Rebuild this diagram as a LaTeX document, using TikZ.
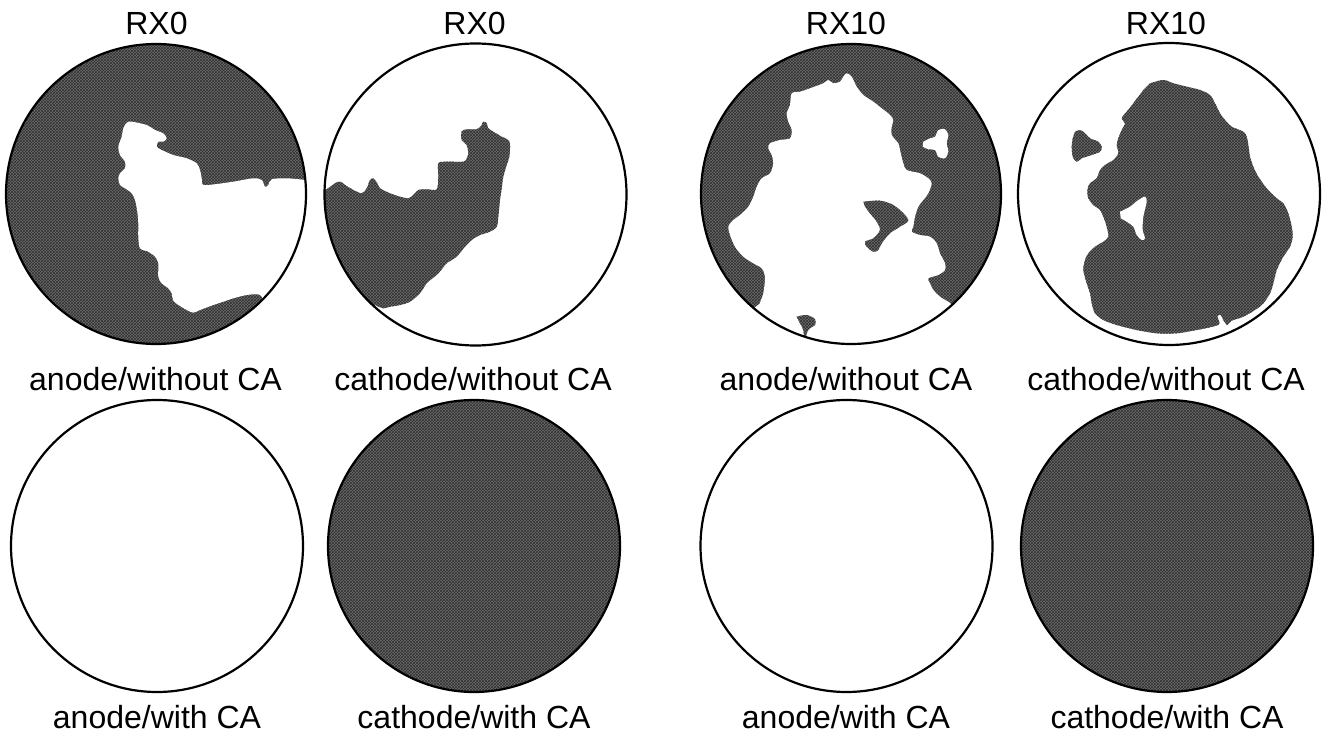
\documentclass[tikz,border=0pt]{standalone}
\usepackage{fontspec}
\setmainfont{Liberation Sans}
\usetikzlibrary{patterns}

\definecolor{hatchbase}{HTML}{6C6C6C}
\definecolor{hatchline}{HTML}{303030}

\newcommand\lblfont{\fontsize{32}{32}\selectfont}

\tikzset{
  hatch/.style={fill=hatchbase, postaction={pattern=crosshatch, pattern color=hatchline}},
  rim/.style={draw=black, line width=2.2pt},
  lbl/.style={font=\lblfont, inner sep=0pt, anchor=base},
  blob/.style={smooth, tension=0.5},
}

\begin{document}
\begin{tikzpicture}[x=1pt, y=-1pt]
\useasboundingbox (0,0) rectangle (1329,735);

% ---------------- column headings ----------------
\node[lbl] (h1) at (156.5,35) {RX0};
\node[lbl] (h2) at (474.6,35) {RX0};
\node[lbl] (h3) at (846,35)   {RX10};
\node[lbl] (h4) at (1166,35)  {RX10};

% ---------------- RX0, anode without CA ----------------
\begin{scope}
  \clip (156,194) circle[radius=150pt];
  \fill[hatch] (156,194) circle[radius=150pt];
  \fill[white] plot[blob] coordinates {
    (261.7,296.7) (258.3,294.3) (246.7,295) (233.3,298.3) (223.3,301.7)
    (213.3,305) (200,310) (193.3,312.7) (186.7,310) (180,306) (173.3,300.7)
    (171.7,293.3) (168.3,288.3) (161.7,283.3) (158.3,276.7) (158.3,263.3)
    (155,256.7) (148.3,251.7) (140,248.3) (138.3,236.7) (138.3,223.3)
    (137.3,211.7) (135,200) (131.7,193.3) (125,188.3) (120,185) (118.3,178.3)
    (120,173.3) (125,168.3) (125,161.7) (120,155) (118.3,146.7) (121.7,136.7)
    (123.3,128.3) (126.7,122.7) (131.7,121.7) (146.7,125) (155,130)
    (163.3,133.3) (166.7,138.3) (163.3,141.7) (158.3,141.7) (156.7,146.7)
    (161.7,150) (173.3,155) (186.7,158.3) (196.7,163.3) (200,170)
    (201.7,178.3) (203.3,185) (216.7,184) (233.3,181.7) (253.3,178.3)
    (261.7,180) (265,186.7) (268.3,185) (271.7,179.3) (286.7,178.3) (306,180)}
    -- (330,180) -- (330,330) -- (275,330) -- cycle;
\end{scope}
\draw[rim] (156,194) circle[radius=150pt];

% ---------------- RX0, cathode without CA ----------------
\begin{scope}
  \clip (475.5,194.5) circle[radius=151pt];
  \fill[hatch] plot[blob] coordinates {
    (326.7,189.3) (335,183.3) (340,181.7) (346.7,186) (353.3,190)
    (361.7,193.3) (366.7,188.3) (370,180) (373.3,178.3) (377.3,183.3)
    (380,188.3) (390,193.3) (400,196.7) (408.3,198.3) (413.3,195)
    (418.3,190) (426.7,189.3) (436.7,189.3) (438.3,176.7) (438.3,163.3)
    (446.7,161.7) (463.3,161.7) (466.7,158.3) (468.3,153.3) (466.7,145)
    (461.7,140) (461.7,131.7) (466.7,129.3) (476.7,129.3) (481.7,125)
    (483.3,121.7) (486.7,123.3) (488.3,128.3) (493.3,131.7) (501.7,136.7)
    (508.3,140) (510,145) (509.3,156.7) (506.7,165) (503.3,176.7)
    (501.7,188.3) (500,200) (498.3,216.7) (496.7,226.7) (490,231.7)
    (480,235) (471.7,240) (465,246.7) (456.7,256.7) (446.7,263.3)
    (438.3,273.3) (426.7,283.3) (420,293.3) (410,301.7) (400,305)
    (390,306.7) (383.3,308.3) (375,305)}
    -- (370,320) -- (310,260) -- (315,189.3) -- cycle;
\end{scope}
\draw[rim] (475.5,194.5) circle[radius=151pt];

% ---------------- RX10, anode without CA ----------------
\begin{scope}
  \clip (851,194) circle[radius=150pt];
  \fill[hatch] (851,194) circle[radius=150pt];
  \fill[white] plot[blob] coordinates {
    (759.3,304) (763.3,293.3) (765,276.7) (761.7,268.3) (753.3,263.3)
    (743.3,256.7) (735,246.7) (730,235) (728.3,226.7) (733.3,220) (740,215)
    (748.3,206.7) (753.3,196.7) (756.7,186.7) (761.7,178.3) (770,173.3)
    (773.3,163.3) (771.7,155) (768.3,148.3) (770,143.3) (780,140)
    (790,138.3) (791.7,130) (788.3,121.7) (786.7,113.3) (790,105)
    (791.7,93.3) (800,91.7) (810,88.3) (823.3,83.3) (828.3,80) (833.3,83.3)
    (840,81.7) (843.3,76.7) (846.7,73.3) (851.7,76.7) (856.7,86.7) (863.3,95)
    (873.3,101.7) (881.7,108.3) (890,115) (893.3,120) (891.7,126.7)
    (891.7,135) (898.3,143.3) (900,150) (903.3,163.3) (906.7,170) (920,173.3)
    (928.3,178.3) (931.7,183.3) (928.3,193.3) (923.3,200) (918.3,206.7)
    (915,216.7) (913.3,226.7) (911.7,231.7) (920,235) (930,236.7)
    (936.7,243.3) (940,253.3) (945,263.3) (945,270) (938.3,275) (928.3,278.3)
    (930,283.3) (933.3,290) (940,296.7) (948.3,301.7)}
    -- (965,315) -- (851,365) -- (745,315) -- cycle;
  % dark islands inside the clear area
  \fill[hatch] plot[blob] coordinates {
    (863.3,201.7) (880,200.7) (893.3,205) (903.3,213.3) (908.3,220.7)
    (900,226.7) (890,233.3) (881.7,243.3) (878.3,250) (873.3,251.7)
    (866.7,246.7) (865,241.7) (873.3,238.3) (880,230) (876.7,221.7)
    (870,213.3) (865,206.7)} -- cycle;
  \fill[hatch] plot[blob] coordinates {
    (796.7,316.7) (806.7,315) (815,319.3) (815,325) (810,328.3)
    (806.7,333.3) (805,345) (803.3,330) (800,323.3)} -- cycle;
  % clear spot in the upper right
  \fill[white] plot[blob] coordinates {
    (923.3,141.7) (930,138.3) (935,136.7) (938.3,130) (945,129.3)
    (948.3,135) (946.7,143.3) (948.3,151.7) (945,158.3) (938.3,156.7)
    (935,150) (928.3,149.3) (922.7,146.7)} -- cycle;
\end{scope}
\draw[rim] (851,194) circle[radius=150pt];

% ---------------- RX10, cathode without CA ----------------
\begin{scope}
  \clip (1169,194) circle[radius=151pt];
  \fill[hatch] plot[blob] coordinates {
    (1150,83.3) (1163.3,80) (1173.3,83.3) (1186.7,86.7) (1200,90) (1210,95)
    (1215,103.3) (1220,113.3) (1225,120) (1231.7,126.7) (1243.3,131.7)
    (1246.7,136.7) (1248.3,145) (1250,156.7) (1253.3,166.7) (1258.3,176.7)
    (1266.7,188.3) (1276.7,198.3) (1283.3,203.3) (1288.3,213.3)
    (1291.7,226.7) (1292.7,236.7) (1290,246.7) (1283.3,256.7) (1276.7,270)
    (1273.3,283.3) (1270,293.3) (1263.3,303.3) (1255,310) (1243.3,316.7)
    (1231.7,320.7) (1227.3,325) (1223.3,320) (1220.7,315) (1217.3,316)
    (1219.3,324) (1210,327.3) (1196.7,330) (1176.7,333.3) (1156.7,333.3)
    (1136.7,330) (1116.7,325) (1103.3,320) (1095,313.3) (1091.7,303.3)
    (1090,293.3) (1086.7,283.3) (1083.3,270) (1085,260) (1088.3,253.3)
    (1095,246.7) (1103.3,241.7) (1108.3,236.7) (1106.7,226.7) (1103.3,216.7)
    (1100,210) (1093.3,205) (1088.3,198.3) (1087.3,190) (1090,183.3)
    (1096.7,178.3) (1100,170) (1105,165) (1113.3,160) (1118.3,153.3)
    (1116.7,145) (1118.3,138.3) (1121.7,130) (1125,123.3) (1121.7,118.3)
    (1126.7,111.7) (1133.3,103.3) (1138.3,96.7) (1143.3,90)} -- cycle;
  % clear hole in the dark area
  \fill[white] plot[blob] coordinates {
    (1120,211.7) (1130,206.7) (1138.3,200) (1145,196.7) (1146.7,201.7)
    (1143.3,216.7) (1142.7,230) (1145,238.3) (1141.7,240) (1136.7,235)
    (1133.3,226.7) (1126.7,221.7) (1120.7,218.3)} -- cycle;
  % small dark island on the left
  \fill[hatch] plot[blob] coordinates {
    (1075,131.7) (1080,130) (1085,133.3) (1090,138.3) (1098.3,141.7)
    (1101.7,146.7) (1100,151.7) (1091.7,155) (1081.7,158.3) (1076.7,161.7)
    (1072.7,156.7) (1071.7,146.7) (1072.7,138.3)} -- cycle;
\end{scope}
\draw[rim] (1169,194) circle[radius=151pt];

% ---------------- labels under the first row ----------------
\node[lbl] (l1) at (155.5,390) {anode/without CA};
\node[lbl] (l2) at (473,390)   {cathode/without CA};
\node[lbl] (l3) at (846,390)   {anode/without CA};
\node[lbl] (l4) at (1166,390)  {cathode/without CA};

% ---------------- second row: with CA ----------------
\draw[rim] (157,546) circle[radius=146pt];
\fill[hatch] (474,546) circle[radius=146pt];
\draw[rim] (474,546) circle[radius=146pt];
\draw[rim] (846.5,546) circle[radius=146pt];
\fill[hatch] (1167,546) circle[radius=146pt];
\draw[rim] (1167,546) circle[radius=146pt];

\node[lbl] (m1) at (157,728)  {anode/with CA};
\node[lbl] (m2) at (474,728)  {cathode/with CA};
\node[lbl] (m3) at (846,728)  {anode/with CA};
\node[lbl] (m4) at (1167,728) {cathode/with CA};
\end{tikzpicture}
\end{document}
